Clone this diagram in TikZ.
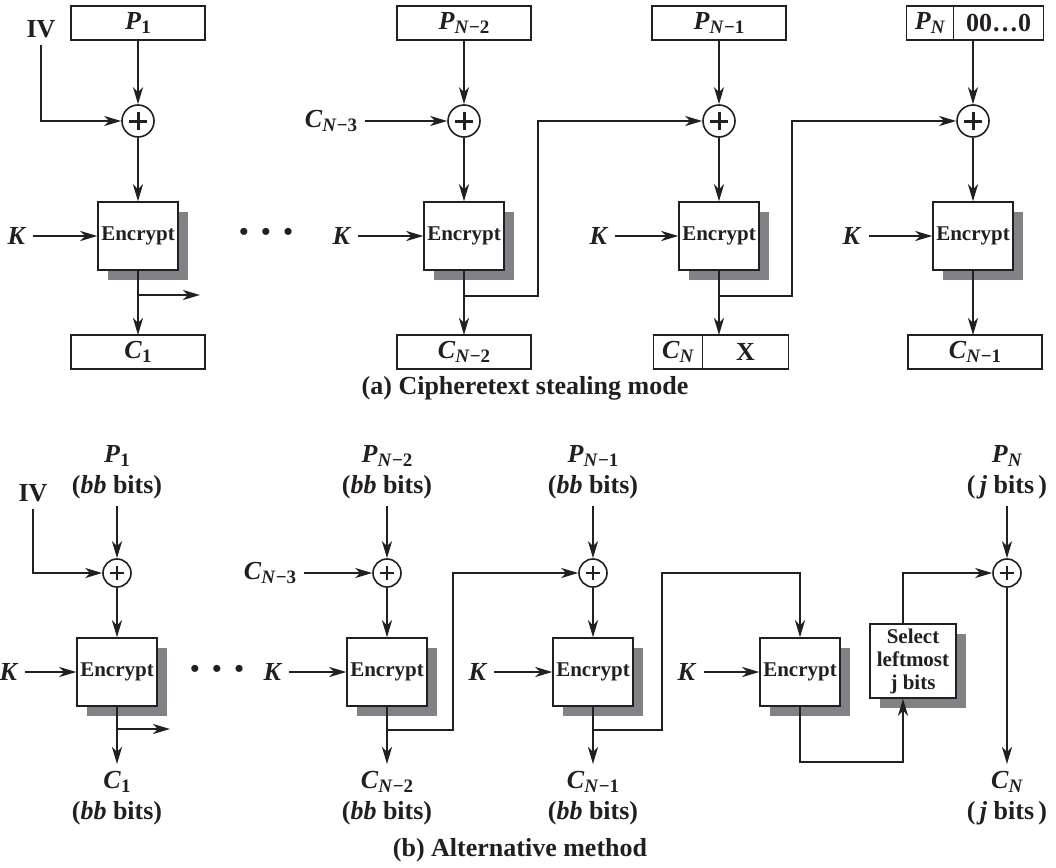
\documentclass[tikz,border=0pt]{standalone}
\usepackage{fontspec}
\setmainfont{Liberation Serif}
\usepackage{xcolor}
\usepackage{tikz}
\usetikzlibrary{arrows.meta}
\usetikzlibrary{shadows}
\usetikzlibrary{positioning}
\definecolor{ink}{RGB}{35,31,32}
\definecolor{shade}{RGB}{128,130,134}
\newcommand{\vsub}[2]{\textit{#1}\raisebox{-2.2pt}{\fontsize{9.5}{9.5}\selectfont #2}}
\newcommand{\lblfont}{\fontsize{13}{15.5}\selectfont\bfseries}

\begin{document}
\begin{tikzpicture}[x=0.5pt,y=-0.5pt,>={Stealth[length=8.5pt,width=5pt,inset=2.5pt]},line width=1.1pt,draw=ink,text=ink,font=\lblfont]
 \tikzstyle{enc}=[draw, line width=0.7pt, fill=white, minimum width=40pt, minimum height=34pt, inner sep=0pt, align=center, font=\fontsize{10.5}{11.5}\selectfont\bfseries, drop shadow={shadow xshift=5pt, shadow yshift=-5pt, fill=shade, opacity=1}]
 \tikzstyle{tbox}=[draw, line width=0.7pt, minimum width=67pt, minimum height=17pt, inner sep=0pt, outer sep=0pt]
 \tikzstyle{xorA}=[draw, circle, line width=0.8pt, minimum size=16pt, inner sep=0pt, path picture={\draw[line width=1.5pt] ([xshift=-4.5pt]path picture bounding box.center) -- ([xshift=4.5pt]path picture bounding box.center) ([yshift=-4.5pt]path picture bounding box.center) -- ([yshift=4.5pt]path picture bounding box.center);}]
 \tikzstyle{xorB}=[draw, circle, line width=0.8pt, minimum size=14pt, inner sep=0pt, path picture={\draw[line width=1.3pt] ([xshift=-3.7pt]path picture bounding box.center) -- ([xshift=3.7pt]path picture bounding box.center) ([yshift=-3.7pt]path picture bounding box.center) -- ([yshift=3.7pt]path picture bounding box.center);}]
 \tikzstyle{lbl}=[align=center, inner sep=3pt]
 \useasboundingbox (0,0) rectangle (1056,868);

 % (a) ciphertext stealing
 \node[tbox] (pa1) at (138,23) {\vsub{P}{1}};
 \node[tbox] (pa2) at (464,23) {\vsub{P}{\textit{N}−2}};
 \node[tbox] (pa3) at (719,23) {\vsub{P}{\textit{N}−1}};
 \node[tbox, minimum width=23.5pt] (pa4) at (930,23) {\vsub{P}{\textit{N}}};
 \node[tbox, minimum width=45pt, right=0pt of pa4] (pz) {00…0};
 \node (iva) at (41,29) {IV};
 \node (cm3a) at (331,121) {\vsub{C}{\textit{N}−3}};
 \node[xorA] (xa1) at (138,121) {};
 \node[xorA] (xa2) at (464,121) {};
 \node[xorA] (xa3) at (719,121) {};
 \node[xorA] (xa4) at (973,121) {};
 \node[enc] (ea1) at (138,236) {Encrypt};
 \node[enc] (ea2) at (464,236) {Encrypt};
 \node[enc] (ea3) at (719,236) {Encrypt};
 \node[enc] (ea4) at (973,236) {Encrypt};
 \node[lbl] (ka1) at (17,236) {\textit{K}};
 \node[lbl] (ka2) at (342,236) {\textit{K}};
 \node[lbl] (ka3) at (599,236) {\textit{K}};
 \node[lbl] (ka4) at (852,236) {\textit{K}};
 \node (dota) at (266,234) {\textbullet\hspace{6.5pt}\textbullet\hspace{6.5pt}\textbullet};
 \node[tbox] (ca1) at (138,352) {\vsub{C}{1}};
 \node[tbox] (ca2) at (464,352) {\vsub{C}{\textit{N}−2}};
 \node[tbox, minimum width=24.5pt] (cn) at (678,352) {\vsub{C}{\textit{N}}};
 \node[tbox, minimum width=43pt, right=0pt of cn] (cx) {X};
 \node[tbox] (ca4) at (975,352) {\vsub{C}{\textit{N}−1}};
 \node (capa) at (525,388) {(a) Cipheretext stealing mode};
 \coordinate (oa1) at (200,295);
 \coordinate (ta2) at (538,296);
 \coordinate (ta3) at (792,296);

 \path[->]
   (pa1) edge (xa1)
   (pa2) edge (xa2)
   (pa3) edge (xa3)
   (xa4 |- pa4.south) edge (xa4)
   (xa1) edge (ea1)
   (xa2) edge (ea2)
   (xa3) edge (ea3)
   (xa4) edge (ea4)
   (ka1) edge (ea1)
   (ka2) edge (ea2)
   (ka3) edge (ea3)
   (ka4) edge (ea4)
   (cm3a) edge (xa2)
   (ea1) edge (ca1)
   (ea2) edge (ca2)
   (ea3) edge (ea3 |- cn.north)
   (ea4) edge (ea4 |- ca4.north);
 \draw[->] (iva) |- (xa1);
 \draw[->] (ea1.south |- oa1) -- (oa1);
 \draw[->] (ea2.south |- ta2) -- (ta2) |- (xa3);
 \draw[->] (ea3.south |- ta3) -- (ta3) |- (xa4);

 % (b) alternative method
 \node[lbl] (pb1) at (117,472) {\vsub{P}{1}\\(\textit{bb} bits)};
 \node[lbl] (pb2) at (387,472) {\vsub{P}{\textit{N}−2}\\(\textit{bb} bits)};
 \node[lbl] (pb3) at (593,472) {\vsub{P}{\textit{N}−1}\\(\textit{bb} bits)};
 \node[lbl] (pb5) at (1007,472) {\vsub{P}{\textit{N}}\\(\,\textit{j} bits\,)};
 \node (ivb) at (33,493) {IV};
 \node (cm3b) at (270,573) {\vsub{C}{\textit{N}−3}};
 \node[xorB] (xb1) at (117,573) {};
 \node[xorB] (xb2) at (387,573) {};
 \node[xorB] (xb3) at (593,573) {};
 \node[xorB] (xb5) at (1007,573) {};
 \node[enc] (eb1) at (117,672) {Encrypt};
 \node[enc] (eb2) at (387,672) {Encrypt};
 \node[enc] (eb3) at (593,672) {Encrypt};
 \node[enc] (eb4) at (800,672) {Encrypt};
 \node[enc, minimum width=43pt, minimum height=37pt] (sel) at (913,661) {Select\\leftmost\\j bits};
 \node[lbl] (kb1) at (9,672) {\textit{K}};
 \node[lbl] (kb2) at (273,672) {\textit{K}};
 \node[lbl] (kb3) at (478,672) {\textit{K}};
 \node[lbl] (kb4) at (687,672) {\textit{K}};
 \node (dotb) at (217,671) {\textbullet\hspace{6.5pt}\textbullet\hspace{6.5pt}\textbullet};
 \node[lbl] (cb1) at (117,798) {\vsub{C}{1}\\(\textit{bb} bits)};
 \node[lbl] (cb2) at (387,798) {\vsub{C}{\textit{N}−2}\\(\textit{bb} bits)};
 \node[lbl] (cb3) at (593,798) {\vsub{C}{\textit{N}−1}\\(\textit{bb} bits)};
 \node[lbl] (cb5) at (1007,798) {\vsub{C}{\textit{N}}\\(\,\textit{j} bits\,)};
 \node (capb) at (520,850) {(b) Alternative method};
 \coordinate (ob1) at (170,729);
 \coordinate (tb2) at (453,730);
 \coordinate (tb3) at (662,730);
 \coordinate (tb4) at (903,762);

 \path[->]
   (pb1) edge (xb1)
   (pb2) edge (xb2)
   (pb3) edge (xb3)
   (pb5) edge (xb5)
   (xb1) edge (eb1)
   (xb2) edge (eb2)
   (xb3) edge (eb3)
   (kb1) edge (eb1)
   (kb2) edge (eb2)
   (kb3) edge (eb3)
   (kb4) edge (eb4)
   (cm3b) edge (xb2)
   (eb1) edge (cb1)
   (eb2) edge (cb2)
   (eb3) edge (cb3)
   (xb5) edge (cb5);
 \draw[->] (ivb) |- (xb1);
 \draw[->] (eb1.south |- ob1) -- (ob1);
 \draw[->] (eb2.south |- tb2) -- (tb2) |- (xb3);
 \draw[->] (eb3.south |- tb3) -- (tb3) |- (eb4.north |- xb3) -- (eb4.north);
 \draw[->] (eb4) |- (tb4) -- (tb4 |- sel.south);
 \draw[->] (tb4 |- sel.north) |- (xb5);
\end{tikzpicture}
\end{document}
